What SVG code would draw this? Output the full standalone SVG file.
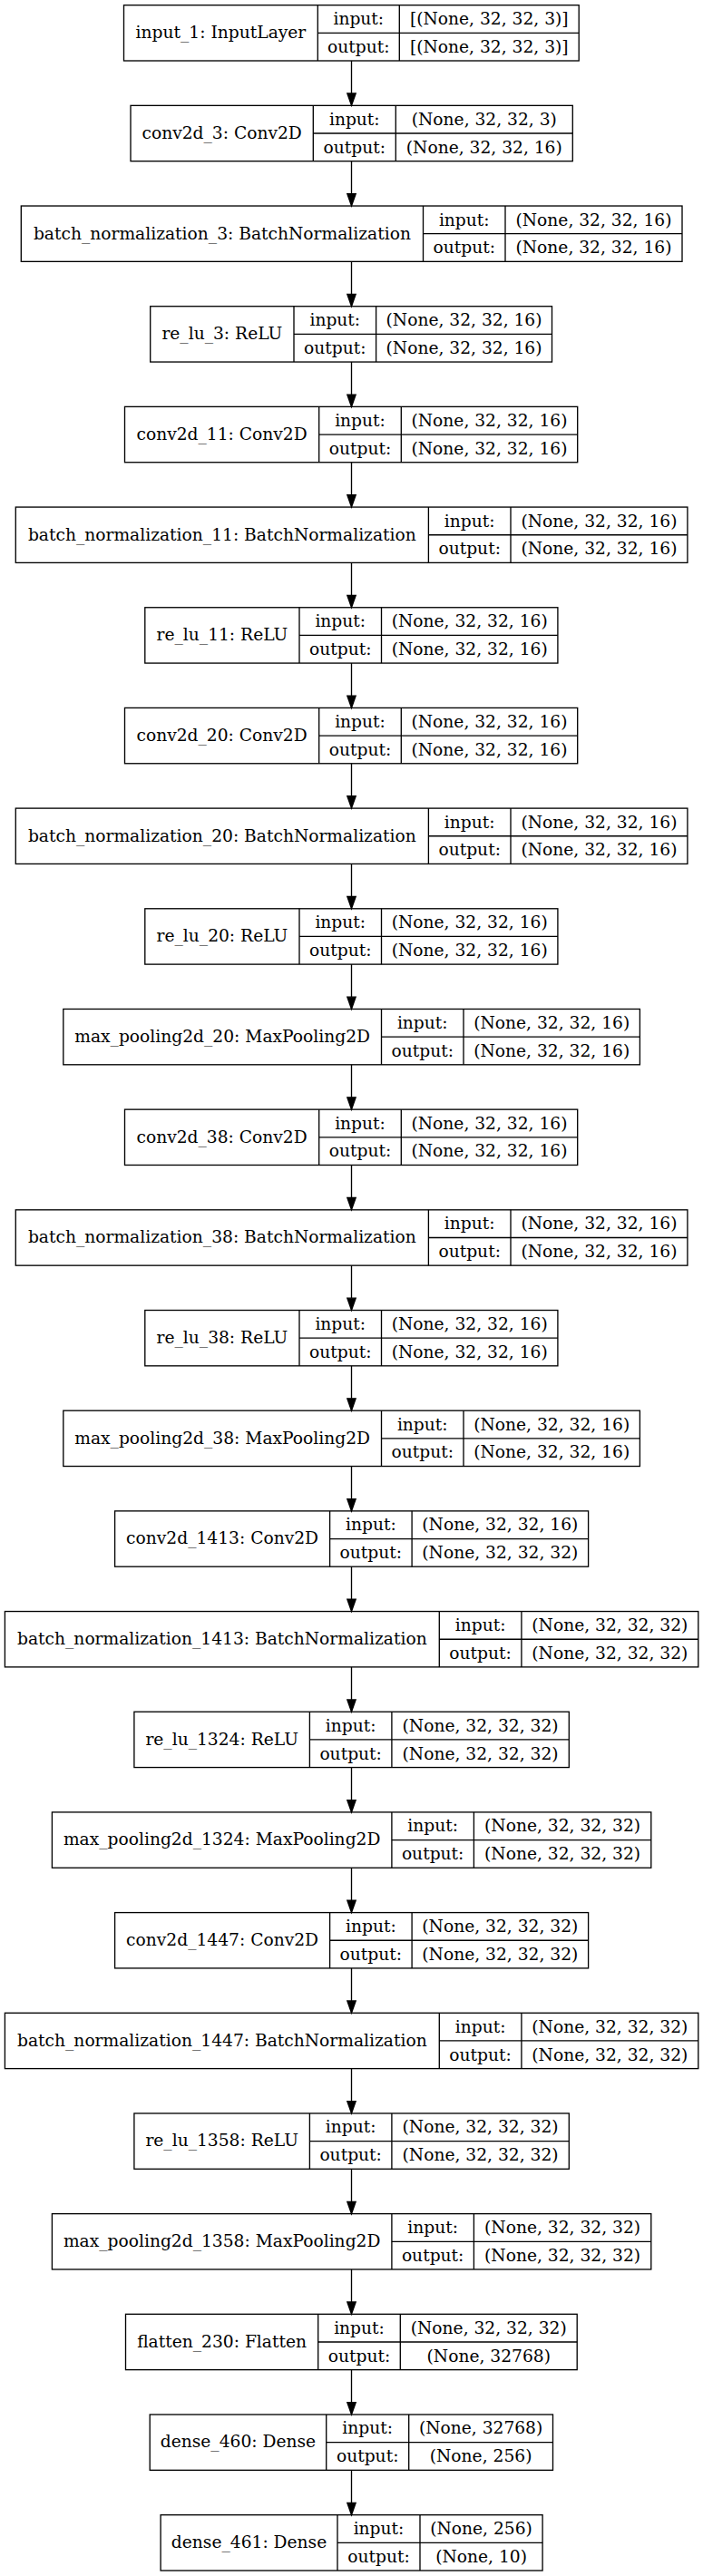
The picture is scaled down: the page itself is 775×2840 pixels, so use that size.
<svg xmlns="http://www.w3.org/2000/svg" width="775" height="2840" viewBox="0 0 775 2840">
<style>
.b{fill:none;stroke:#000;stroke-width:1.33}
.t{font-family:"DejaVu Serif","Liberation Serif",serif;font-size:18.67px;fill:#000;text-anchor:middle}
.e{stroke:#000;stroke-width:1.33;fill:none;marker-end:url(#ah)}
</style>
<defs>
<marker id="ah" markerUnits="userSpaceOnUse" markerWidth="16" markerHeight="12" viewBox="0 -6 16 12" refX="0" refY="0" orient="auto" overflow="visible">
<path d="M0,-4.67 L13.33,0 L0,4.67 Z" fill="#000" stroke="#000" stroke-width="1.33"/>
</marker>
</defs>
<rect x="0" y="0" width="775" height="2840" fill="#fff"/>
<g id="connectors">
<line class="e" x1="387.5" y1="67" x2="387.5" y2="103.02"/>
<line class="e" x1="387.5" y1="177.68" x2="387.5" y2="213.7"/>
<line class="e" x1="387.5" y1="288.36" x2="387.5" y2="324.38"/>
<line class="e" x1="387.5" y1="399.04" x2="387.5" y2="435.06"/>
<line class="e" x1="387.5" y1="509.72" x2="387.5" y2="545.74"/>
<line class="e" x1="387.5" y1="620.4" x2="387.5" y2="656.42"/>
<line class="e" x1="387.5" y1="731.08" x2="387.5" y2="767.1"/>
<line class="e" x1="387.5" y1="841.76" x2="387.5" y2="877.78"/>
<line class="e" x1="387.5" y1="952.44" x2="387.5" y2="988.46"/>
<line class="e" x1="387.5" y1="1063.12" x2="387.5" y2="1099.14"/>
<line class="e" x1="387.5" y1="1173.8" x2="387.5" y2="1209.82"/>
<line class="e" x1="387.5" y1="1284.48" x2="387.5" y2="1320.5"/>
<line class="e" x1="387.5" y1="1395.16" x2="387.5" y2="1431.18"/>
<line class="e" x1="387.5" y1="1505.84" x2="387.5" y2="1541.86"/>
<line class="e" x1="387.5" y1="1616.52" x2="387.5" y2="1652.54"/>
<line class="e" x1="387.5" y1="1727.2" x2="387.5" y2="1763.22"/>
<line class="e" x1="387.5" y1="1837.88" x2="387.5" y2="1873.9"/>
<line class="e" x1="387.5" y1="1948.56" x2="387.5" y2="1984.58"/>
<line class="e" x1="387.5" y1="2059.24" x2="387.5" y2="2095.26"/>
<line class="e" x1="387.5" y1="2169.92" x2="387.5" y2="2205.94"/>
<line class="e" x1="387.5" y1="2280.6" x2="387.5" y2="2316.62"/>
<line class="e" x1="387.5" y1="2391.28" x2="387.5" y2="2427.3"/>
<line class="e" x1="387.5" y1="2501.96" x2="387.5" y2="2537.98"/>
<line class="e" x1="387.5" y1="2612.64" x2="387.5" y2="2648.66"/>
<line class="e" x1="387.5" y1="2723.32" x2="387.5" y2="2759.34"/>
</g>

<g id="input_1" transform="translate(0,5.67)">
<rect class="b" x="136.5" y="0" width="501.7" height="61.33"/>
<line class="b" x1="350.3" y1="0" x2="350.3" y2="61.33"/><line class="b" x1="440.3" y1="0" x2="440.3" y2="61.33"/><line class="b" x1="350.3" y1="30.67" x2="638.2" y2="30.67"/>
<text class="t" x="243.4" y="36.5">input_1: InputLayer</text>
<text class="t" x="395.3" y="21.5">input:</text><text class="t" x="395.3" y="52.3">output:</text>
<text class="t" x="539.25" y="21.5">[(None, 32, 32, 3)]</text><text class="t" x="539.25" y="52.3">[(None, 32, 32, 3)]</text>
</g>

<g id="conv2d_3" transform="translate(0,116.35)">
<rect class="b" x="144" y="0" width="487.3" height="61.33"/>
<line class="b" x1="345.3" y1="0" x2="345.3" y2="61.33"/><line class="b" x1="436.3" y1="0" x2="436.3" y2="61.33"/><line class="b" x1="345.3" y1="30.67" x2="631.3" y2="30.67"/>
<text class="t" x="244.65" y="36.5">conv2d_3: Conv2D</text>
<text class="t" x="390.8" y="21.5">input:</text><text class="t" x="390.8" y="52.3">output:</text>
<text class="t" x="533.8" y="21.5">(None, 32, 32, 3)</text><text class="t" x="533.8" y="52.3">(None, 32, 32, 16)</text>
</g>

<g id="batch_normalization_3" transform="translate(0,227.03)">
<rect class="b" x="23.3" y="0" width="728.7" height="61.33"/>
<line class="b" x1="466.5" y1="0" x2="466.5" y2="61.33"/><line class="b" x1="557" y1="0" x2="557" y2="61.33"/><line class="b" x1="466.5" y1="30.67" x2="752" y2="30.67"/>
<text class="t" x="244.9" y="36.5">batch_normalization_3: BatchNormalization</text>
<text class="t" x="511.75" y="21.5">input:</text><text class="t" x="511.75" y="52.3">output:</text>
<text class="t" x="654.5" y="21.5">(None, 32, 32, 16)</text><text class="t" x="654.5" y="52.3">(None, 32, 32, 16)</text>
</g>

<g id="re_lu_3" transform="translate(0,337.71)">
<rect class="b" x="165.7" y="0" width="442.8" height="61.33"/>
<line class="b" x1="324" y1="0" x2="324" y2="61.33"/><line class="b" x1="414.6" y1="0" x2="414.6" y2="61.33"/><line class="b" x1="324" y1="30.67" x2="608.5" y2="30.67"/>
<text class="t" x="244.85" y="36.5">re_lu_3: ReLU</text>
<text class="t" x="369.3" y="21.5">input:</text><text class="t" x="369.3" y="52.3">output:</text>
<text class="t" x="511.55" y="21.5">(None, 32, 32, 16)</text><text class="t" x="511.55" y="52.3">(None, 32, 32, 16)</text>
</g>

<g id="conv2d_11" transform="translate(0,448.39)">
<rect class="b" x="137.5" y="0" width="499.2" height="61.33"/>
<line class="b" x1="351.7" y1="0" x2="351.7" y2="61.33"/><line class="b" x1="442.3" y1="0" x2="442.3" y2="61.33"/><line class="b" x1="351.7" y1="30.67" x2="636.7" y2="30.67"/>
<text class="t" x="244.6" y="36.5">conv2d_11: Conv2D</text>
<text class="t" x="397" y="21.5">input:</text><text class="t" x="397" y="52.3">output:</text>
<text class="t" x="539.5" y="21.5">(None, 32, 32, 16)</text><text class="t" x="539.5" y="52.3">(None, 32, 32, 16)</text>
</g>

<g id="batch_normalization_11" transform="translate(0,559.07)">
<rect class="b" x="17.3" y="0" width="740.6" height="61.33"/>
<line class="b" x1="472.4" y1="0" x2="472.4" y2="61.33"/><line class="b" x1="563" y1="0" x2="563" y2="61.33"/><line class="b" x1="472.4" y1="30.67" x2="757.9" y2="30.67"/>
<text class="t" x="244.85" y="36.5">batch_normalization_11: BatchNormalization</text>
<text class="t" x="517.7" y="21.5">input:</text><text class="t" x="517.7" y="52.3">output:</text>
<text class="t" x="660.45" y="21.5">(None, 32, 32, 16)</text><text class="t" x="660.45" y="52.3">(None, 32, 32, 16)</text>
</g>

<g id="re_lu_11" transform="translate(0,669.75)">
<rect class="b" x="159.8" y="0" width="455.1" height="61.33"/>
<line class="b" x1="330" y1="0" x2="330" y2="61.33"/><line class="b" x1="420.5" y1="0" x2="420.5" y2="61.33"/><line class="b" x1="330" y1="30.67" x2="614.9" y2="30.67"/>
<text class="t" x="244.9" y="36.5">re_lu_11: ReLU</text>
<text class="t" x="375.25" y="21.5">input:</text><text class="t" x="375.25" y="52.3">output:</text>
<text class="t" x="517.7" y="21.5">(None, 32, 32, 16)</text><text class="t" x="517.7" y="52.3">(None, 32, 32, 16)</text>
</g>

<g id="conv2d_20" transform="translate(0,780.43)">
<rect class="b" x="137.5" y="0" width="499.2" height="61.33"/>
<line class="b" x1="351.7" y1="0" x2="351.7" y2="61.33"/><line class="b" x1="442.3" y1="0" x2="442.3" y2="61.33"/><line class="b" x1="351.7" y1="30.67" x2="636.7" y2="30.67"/>
<text class="t" x="244.6" y="36.5">conv2d_20: Conv2D</text>
<text class="t" x="397" y="21.5">input:</text><text class="t" x="397" y="52.3">output:</text>
<text class="t" x="539.5" y="21.5">(None, 32, 32, 16)</text><text class="t" x="539.5" y="52.3">(None, 32, 32, 16)</text>
</g>

<g id="batch_normalization_20" transform="translate(0,891.11)">
<rect class="b" x="17.3" y="0" width="740.6" height="61.33"/>
<line class="b" x1="472.4" y1="0" x2="472.4" y2="61.33"/><line class="b" x1="563" y1="0" x2="563" y2="61.33"/><line class="b" x1="472.4" y1="30.67" x2="757.9" y2="30.67"/>
<text class="t" x="244.85" y="36.5">batch_normalization_20: BatchNormalization</text>
<text class="t" x="517.7" y="21.5">input:</text><text class="t" x="517.7" y="52.3">output:</text>
<text class="t" x="660.45" y="21.5">(None, 32, 32, 16)</text><text class="t" x="660.45" y="52.3">(None, 32, 32, 16)</text>
</g>

<g id="re_lu_20" transform="translate(0,1001.79)">
<rect class="b" x="159.8" y="0" width="455.1" height="61.33"/>
<line class="b" x1="330" y1="0" x2="330" y2="61.33"/><line class="b" x1="420.5" y1="0" x2="420.5" y2="61.33"/><line class="b" x1="330" y1="30.67" x2="614.9" y2="30.67"/>
<text class="t" x="244.9" y="36.5">re_lu_20: ReLU</text>
<text class="t" x="375.25" y="21.5">input:</text><text class="t" x="375.25" y="52.3">output:</text>
<text class="t" x="517.7" y="21.5">(None, 32, 32, 16)</text><text class="t" x="517.7" y="52.3">(None, 32, 32, 16)</text>
</g>

<g id="max_pooling2d_20" transform="translate(0,1112.47)">
<rect class="b" x="69.8" y="0" width="635.6" height="61.33"/>
<line class="b" x1="420.5" y1="0" x2="420.5" y2="61.33"/><line class="b" x1="511" y1="0" x2="511" y2="61.33"/><line class="b" x1="420.5" y1="30.67" x2="705.4" y2="30.67"/>
<text class="t" x="245.15" y="36.5">max_pooling2d_20: MaxPooling2D</text>
<text class="t" x="465.75" y="21.5">input:</text><text class="t" x="465.75" y="52.3">output:</text>
<text class="t" x="608.2" y="21.5">(None, 32, 32, 16)</text><text class="t" x="608.2" y="52.3">(None, 32, 32, 16)</text>
</g>

<g id="conv2d_38" transform="translate(0,1223.15)">
<rect class="b" x="137.5" y="0" width="499.2" height="61.33"/>
<line class="b" x1="351.7" y1="0" x2="351.7" y2="61.33"/><line class="b" x1="442.3" y1="0" x2="442.3" y2="61.33"/><line class="b" x1="351.7" y1="30.67" x2="636.7" y2="30.67"/>
<text class="t" x="244.6" y="36.5">conv2d_38: Conv2D</text>
<text class="t" x="397" y="21.5">input:</text><text class="t" x="397" y="52.3">output:</text>
<text class="t" x="539.5" y="21.5">(None, 32, 32, 16)</text><text class="t" x="539.5" y="52.3">(None, 32, 32, 16)</text>
</g>

<g id="batch_normalization_38" transform="translate(0,1333.83)">
<rect class="b" x="17.3" y="0" width="740.6" height="61.33"/>
<line class="b" x1="472.4" y1="0" x2="472.4" y2="61.33"/><line class="b" x1="563" y1="0" x2="563" y2="61.33"/><line class="b" x1="472.4" y1="30.67" x2="757.9" y2="30.67"/>
<text class="t" x="244.85" y="36.5">batch_normalization_38: BatchNormalization</text>
<text class="t" x="517.7" y="21.5">input:</text><text class="t" x="517.7" y="52.3">output:</text>
<text class="t" x="660.45" y="21.5">(None, 32, 32, 16)</text><text class="t" x="660.45" y="52.3">(None, 32, 32, 16)</text>
</g>

<g id="re_lu_38" transform="translate(0,1444.51)">
<rect class="b" x="159.8" y="0" width="455.1" height="61.33"/>
<line class="b" x1="330" y1="0" x2="330" y2="61.33"/><line class="b" x1="420.5" y1="0" x2="420.5" y2="61.33"/><line class="b" x1="330" y1="30.67" x2="614.9" y2="30.67"/>
<text class="t" x="244.9" y="36.5">re_lu_38: ReLU</text>
<text class="t" x="375.25" y="21.5">input:</text><text class="t" x="375.25" y="52.3">output:</text>
<text class="t" x="517.7" y="21.5">(None, 32, 32, 16)</text><text class="t" x="517.7" y="52.3">(None, 32, 32, 16)</text>
</g>

<g id="max_pooling2d_38" transform="translate(0,1555.19)">
<rect class="b" x="69.8" y="0" width="635.6" height="61.33"/>
<line class="b" x1="420.5" y1="0" x2="420.5" y2="61.33"/><line class="b" x1="511" y1="0" x2="511" y2="61.33"/><line class="b" x1="420.5" y1="30.67" x2="705.4" y2="30.67"/>
<text class="t" x="245.15" y="36.5">max_pooling2d_38: MaxPooling2D</text>
<text class="t" x="465.75" y="21.5">input:</text><text class="t" x="465.75" y="52.3">output:</text>
<text class="t" x="608.2" y="21.5">(None, 32, 32, 16)</text><text class="t" x="608.2" y="52.3">(None, 32, 32, 16)</text>
</g>

<g id="conv2d_1413" transform="translate(0,1665.87)">
<rect class="b" x="126.6" y="0" width="522" height="61.33"/>
<line class="b" x1="363.6" y1="0" x2="363.6" y2="61.33"/><line class="b" x1="454.1" y1="0" x2="454.1" y2="61.33"/><line class="b" x1="363.6" y1="30.67" x2="648.6" y2="30.67"/>
<text class="t" x="245.1" y="36.5">conv2d_1413: Conv2D</text>
<text class="t" x="408.85" y="21.5">input:</text><text class="t" x="408.85" y="52.3">output:</text>
<text class="t" x="551.35" y="21.5">(None, 32, 32, 16)</text><text class="t" x="551.35" y="52.3">(None, 32, 32, 32)</text>
</g>

<g id="batch_normalization_1413" transform="translate(0,1776.55)">
<rect class="b" x="5.4" y="0" width="764.4" height="61.33"/>
<line class="b" x1="484.3" y1="0" x2="484.3" y2="61.33"/><line class="b" x1="574.9" y1="0" x2="574.9" y2="61.33"/><line class="b" x1="484.3" y1="30.67" x2="769.8" y2="30.67"/>
<text class="t" x="244.85" y="36.5">batch_normalization_1413: BatchNormalization</text>
<text class="t" x="529.6" y="21.5">input:</text><text class="t" x="529.6" y="52.3">output:</text>
<text class="t" x="672.35" y="21.5">(None, 32, 32, 32)</text><text class="t" x="672.35" y="52.3">(None, 32, 32, 32)</text>
</g>

<g id="re_lu_1324" transform="translate(0,1887.23)">
<rect class="b" x="147.9" y="0" width="479.4" height="61.33"/>
<line class="b" x1="341.4" y1="0" x2="341.4" y2="61.33"/><line class="b" x1="431.9" y1="0" x2="431.9" y2="61.33"/><line class="b" x1="341.4" y1="30.67" x2="627.3" y2="30.67"/>
<text class="t" x="244.65" y="36.5">re_lu_1324: ReLU</text>
<text class="t" x="386.65" y="21.5">input:</text><text class="t" x="386.65" y="52.3">output:</text>
<text class="t" x="529.6" y="21.5">(None, 32, 32, 32)</text><text class="t" x="529.6" y="52.3">(None, 32, 32, 32)</text>
</g>

<g id="max_pooling2d_1324" transform="translate(0,1997.91)">
<rect class="b" x="57.4" y="0" width="660.4" height="61.33"/>
<line class="b" x1="431.9" y1="0" x2="431.9" y2="61.33"/><line class="b" x1="522.4" y1="0" x2="522.4" y2="61.33"/><line class="b" x1="431.9" y1="30.67" x2="717.8" y2="30.67"/>
<text class="t" x="244.65" y="36.5">max_pooling2d_1324: MaxPooling2D</text>
<text class="t" x="477.15" y="21.5">input:</text><text class="t" x="477.15" y="52.3">output:</text>
<text class="t" x="620.1" y="21.5">(None, 32, 32, 32)</text><text class="t" x="620.1" y="52.3">(None, 32, 32, 32)</text>
</g>

<g id="conv2d_1447" transform="translate(0,2108.59)">
<rect class="b" x="126.6" y="0" width="522" height="61.33"/>
<line class="b" x1="363.6" y1="0" x2="363.6" y2="61.33"/><line class="b" x1="454.1" y1="0" x2="454.1" y2="61.33"/><line class="b" x1="363.6" y1="30.67" x2="648.6" y2="30.67"/>
<text class="t" x="245.1" y="36.5">conv2d_1447: Conv2D</text>
<text class="t" x="408.85" y="21.5">input:</text><text class="t" x="408.85" y="52.3">output:</text>
<text class="t" x="551.35" y="21.5">(None, 32, 32, 32)</text><text class="t" x="551.35" y="52.3">(None, 32, 32, 32)</text>
</g>

<g id="batch_normalization_1447" transform="translate(0,2219.27)">
<rect class="b" x="5.4" y="0" width="764.4" height="61.33"/>
<line class="b" x1="484.3" y1="0" x2="484.3" y2="61.33"/><line class="b" x1="574.9" y1="0" x2="574.9" y2="61.33"/><line class="b" x1="484.3" y1="30.67" x2="769.8" y2="30.67"/>
<text class="t" x="244.85" y="36.5">batch_normalization_1447: BatchNormalization</text>
<text class="t" x="529.6" y="21.5">input:</text><text class="t" x="529.6" y="52.3">output:</text>
<text class="t" x="672.35" y="21.5">(None, 32, 32, 32)</text><text class="t" x="672.35" y="52.3">(None, 32, 32, 32)</text>
</g>

<g id="re_lu_1358" transform="translate(0,2329.95)">
<rect class="b" x="147.9" y="0" width="479.4" height="61.33"/>
<line class="b" x1="341.4" y1="0" x2="341.4" y2="61.33"/><line class="b" x1="431.9" y1="0" x2="431.9" y2="61.33"/><line class="b" x1="341.4" y1="30.67" x2="627.3" y2="30.67"/>
<text class="t" x="244.65" y="36.5">re_lu_1358: ReLU</text>
<text class="t" x="386.65" y="21.5">input:</text><text class="t" x="386.65" y="52.3">output:</text>
<text class="t" x="529.6" y="21.5">(None, 32, 32, 32)</text><text class="t" x="529.6" y="52.3">(None, 32, 32, 32)</text>
</g>

<g id="max_pooling2d_1358" transform="translate(0,2440.63)">
<rect class="b" x="57.4" y="0" width="660.4" height="61.33"/>
<line class="b" x1="431.9" y1="0" x2="431.9" y2="61.33"/><line class="b" x1="522.4" y1="0" x2="522.4" y2="61.33"/><line class="b" x1="431.9" y1="30.67" x2="717.8" y2="30.67"/>
<text class="t" x="244.65" y="36.5">max_pooling2d_1358: MaxPooling2D</text>
<text class="t" x="477.15" y="21.5">input:</text><text class="t" x="477.15" y="52.3">output:</text>
<text class="t" x="620.1" y="21.5">(None, 32, 32, 32)</text><text class="t" x="620.1" y="52.3">(None, 32, 32, 32)</text>
</g>

<g id="flatten_230" transform="translate(0,2551.31)">
<rect class="b" x="138.5" y="0" width="497.7" height="61.33"/>
<line class="b" x1="350.7" y1="0" x2="350.7" y2="61.33"/><line class="b" x1="441.3" y1="0" x2="441.3" y2="61.33"/><line class="b" x1="350.7" y1="30.67" x2="636.2" y2="30.67"/>
<text class="t" x="244.6" y="36.5">flatten_230: Flatten</text>
<text class="t" x="396" y="21.5">input:</text><text class="t" x="396" y="52.3">output:</text>
<text class="t" x="538.75" y="21.5">(None, 32, 32, 32)</text><text class="t" x="538.75" y="52.3">(None, 32768)</text>
</g>

<g id="dense_460" transform="translate(0,2661.99)">
<rect class="b" x="165.2" y="0" width="444.3" height="61.33"/>
<line class="b" x1="359.7" y1="0" x2="359.7" y2="61.33"/><line class="b" x1="450.7" y1="0" x2="450.7" y2="61.33"/><line class="b" x1="359.7" y1="30.67" x2="609.5" y2="30.67"/>
<text class="t" x="262.45" y="36.5">dense_460: Dense</text>
<text class="t" x="405.2" y="21.5">input:</text><text class="t" x="405.2" y="52.3">output:</text>
<text class="t" x="530.1" y="21.5">(None, 32768)</text><text class="t" x="530.1" y="52.3">(None, 256)</text>
</g>

<g id="dense_461" transform="translate(0,2772.67)">
<rect class="b" x="177.1" y="0" width="421" height="61.33"/>
<line class="b" x1="372" y1="0" x2="372" y2="61.33"/><line class="b" x1="463" y1="0" x2="463" y2="61.33"/><line class="b" x1="372" y1="30.67" x2="598.1" y2="30.67"/>
<text class="t" x="274.55" y="36.5">dense_461: Dense</text>
<text class="t" x="417.5" y="21.5">input:</text><text class="t" x="417.5" y="52.3">output:</text>
<text class="t" x="530.55" y="21.5">(None, 256)</text><text class="t" x="530.55" y="52.3">(None, 10)</text>
</g>
</svg>
